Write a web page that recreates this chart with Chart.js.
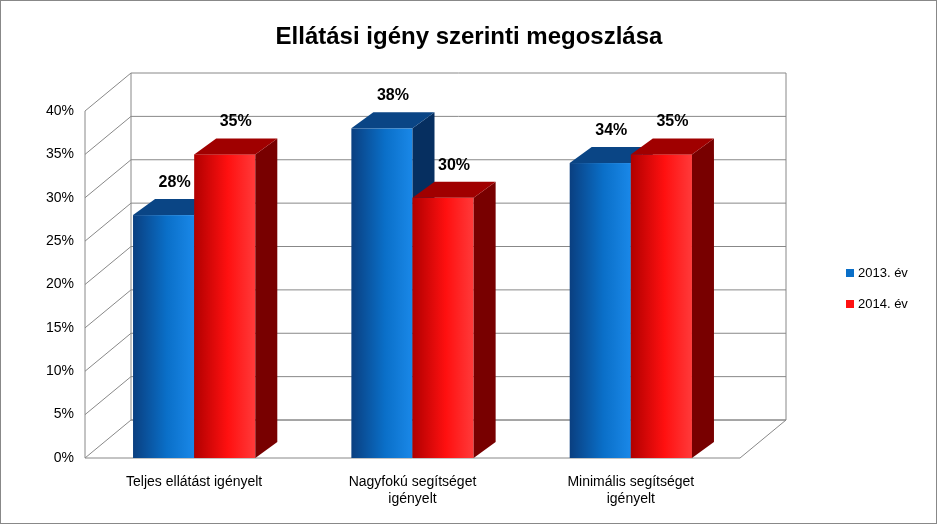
<!DOCTYPE html><html><head><meta charset="utf-8">
<script src="https://cdn.jsdelivr.net/npm/chart.js@4"></script>
<style>body{margin:0;background:#fff}#w{width:935px;height:522px;border:1px solid #888}</style></head><body>
<div id="w"><canvas id="c"></canvas></div>
<script>
const categories=[["Teljes ellátást igényelt"],["Nagyfokú segítséget","igényelt"],["Minimális segítséget","igényelt"]];
const s2013=[28,38,34];
const s2014=[35,30,35];
const seriesNames=["2013. év","2014. év"];
const DX=46,DY=-38,BX=22,BY=-16;
const cols=[["#0a3f80","#0a6fc8","#1a88e8"],["#b00000","#ff1010","#ff3a3a"]];
const sides=[["#062f60","#0a4585"],["#780000","#a00000"]];
const p={id:'p3d',
beforeDatasetsDraw(ch){const c=ch.ctx,a=ch.chartArea,y=ch.scales.y;c.save();c.strokeStyle='#888';c.lineWidth=1;
 y.ticks.forEach(t=>{const py=y.getPixelForValue(t.value);c.beginPath();c.moveTo(a.left,py);c.lineTo(a.left+DX,py+DY);c.lineTo(a.right+DX,py+DY);c.stroke();});
 c.beginPath();c.moveTo(a.left,a.top);c.lineTo(a.left,a.bottom);c.lineTo(a.right,a.bottom);c.lineTo(a.right+DX,a.bottom+DY);c.lineTo(a.right+DX,a.top+DY);c.stroke();
 c.beginPath();c.moveTo(a.left+DX,a.top+DY);c.lineTo(a.left+DX,a.bottom+DY);c.lineTo(a.right+DX,a.bottom+DY);c.stroke();
 c.fillStyle='#000';c.font='bold 24px Arial, "Liberation Sans"';c.textAlign='center';c.textBaseline='middle';c.fillText('Ellátási igény szerinti megoszlása',468,36);
 c.restore();},
afterDatasetsDraw(ch){const c=ch.ctx;c.save();
 ch.data.datasets.forEach((ds,di)=>{ch.getDatasetMeta(di).data.forEach((b,i)=>{const l=b.x-b.width/2,r=b.x+b.width/2,t=b.y,bo=b.base;
  const g=c.createLinearGradient(l,0,r,0);g.addColorStop(0,cols[di][0]);g.addColorStop(0.55,cols[di][1]);g.addColorStop(1,cols[di][2]);
  c.fillStyle=g;c.fillRect(l,t,r-l,bo-t);
  c.fillStyle=sides[di][0];c.beginPath();c.moveTo(r,t);c.lineTo(r+BX,t+BY);c.lineTo(r+BX,bo+BY);c.lineTo(r,bo);c.fill();
  c.fillStyle=sides[di][1];c.beginPath();c.moveTo(l,t);c.lineTo(l+BX,t+BY);c.lineTo(r+BX,t+BY);c.lineTo(r,t);c.fill();
  c.fillStyle='#000';c.font='bold 16px Arial, "Liberation Sans"';c.textAlign='center';c.textBaseline='alphabetic';c.fillText(ds.data[i]+'%',b.x+BX/2,t+BY-12);});});
 const lx=845;[[272,0],[303,1]].forEach(([ly,di])=>{c.fillStyle=cols[di][1];c.fillRect(lx,ly-4,8,8);c.fillStyle='#000';c.font='13px Arial, "Liberation Sans"';c.textAlign='left';c.textBaseline='middle';c.fillText(seriesNames[di],lx+12,ly);});
 c.restore();}};
new Chart(document.getElementById('c'),{type:'bar',plugins:[p],
data:{labels:categories,datasets:[s2013,s2014].map((d,di)=>({label:seriesNames[di],data:d,backgroundColor:'rgba(0,0,0,0)'}))},
options:{responsive:true,maintainAspectRatio:false,animation:false,
 layout:{padding:{top:110,right:196,left:0,bottom:0}},
 plugins:{legend:{display:false},tooltip:{enabled:false},title:{display:false}},
 datasets:{bar:{categoryPercentage:0.56,barPercentage:1}},
 scales:{y:{min:0,max:40,ticks:{stepSize:5,callback:v=>v+'%',color:'#000',font:{size:14,family:'Arial, "Liberation Sans"'}},grid:{display:false},border:{display:false},afterFit(s){s.width=84;}},
  x:{ticks:{color:'#000',font:{size:14,family:'Arial, "Liberation Sans"'},maxRotation:0,padding:8},grid:{display:false},border:{display:false},afterFit(s){s.height=65;}}}}});
</script></body></html>
